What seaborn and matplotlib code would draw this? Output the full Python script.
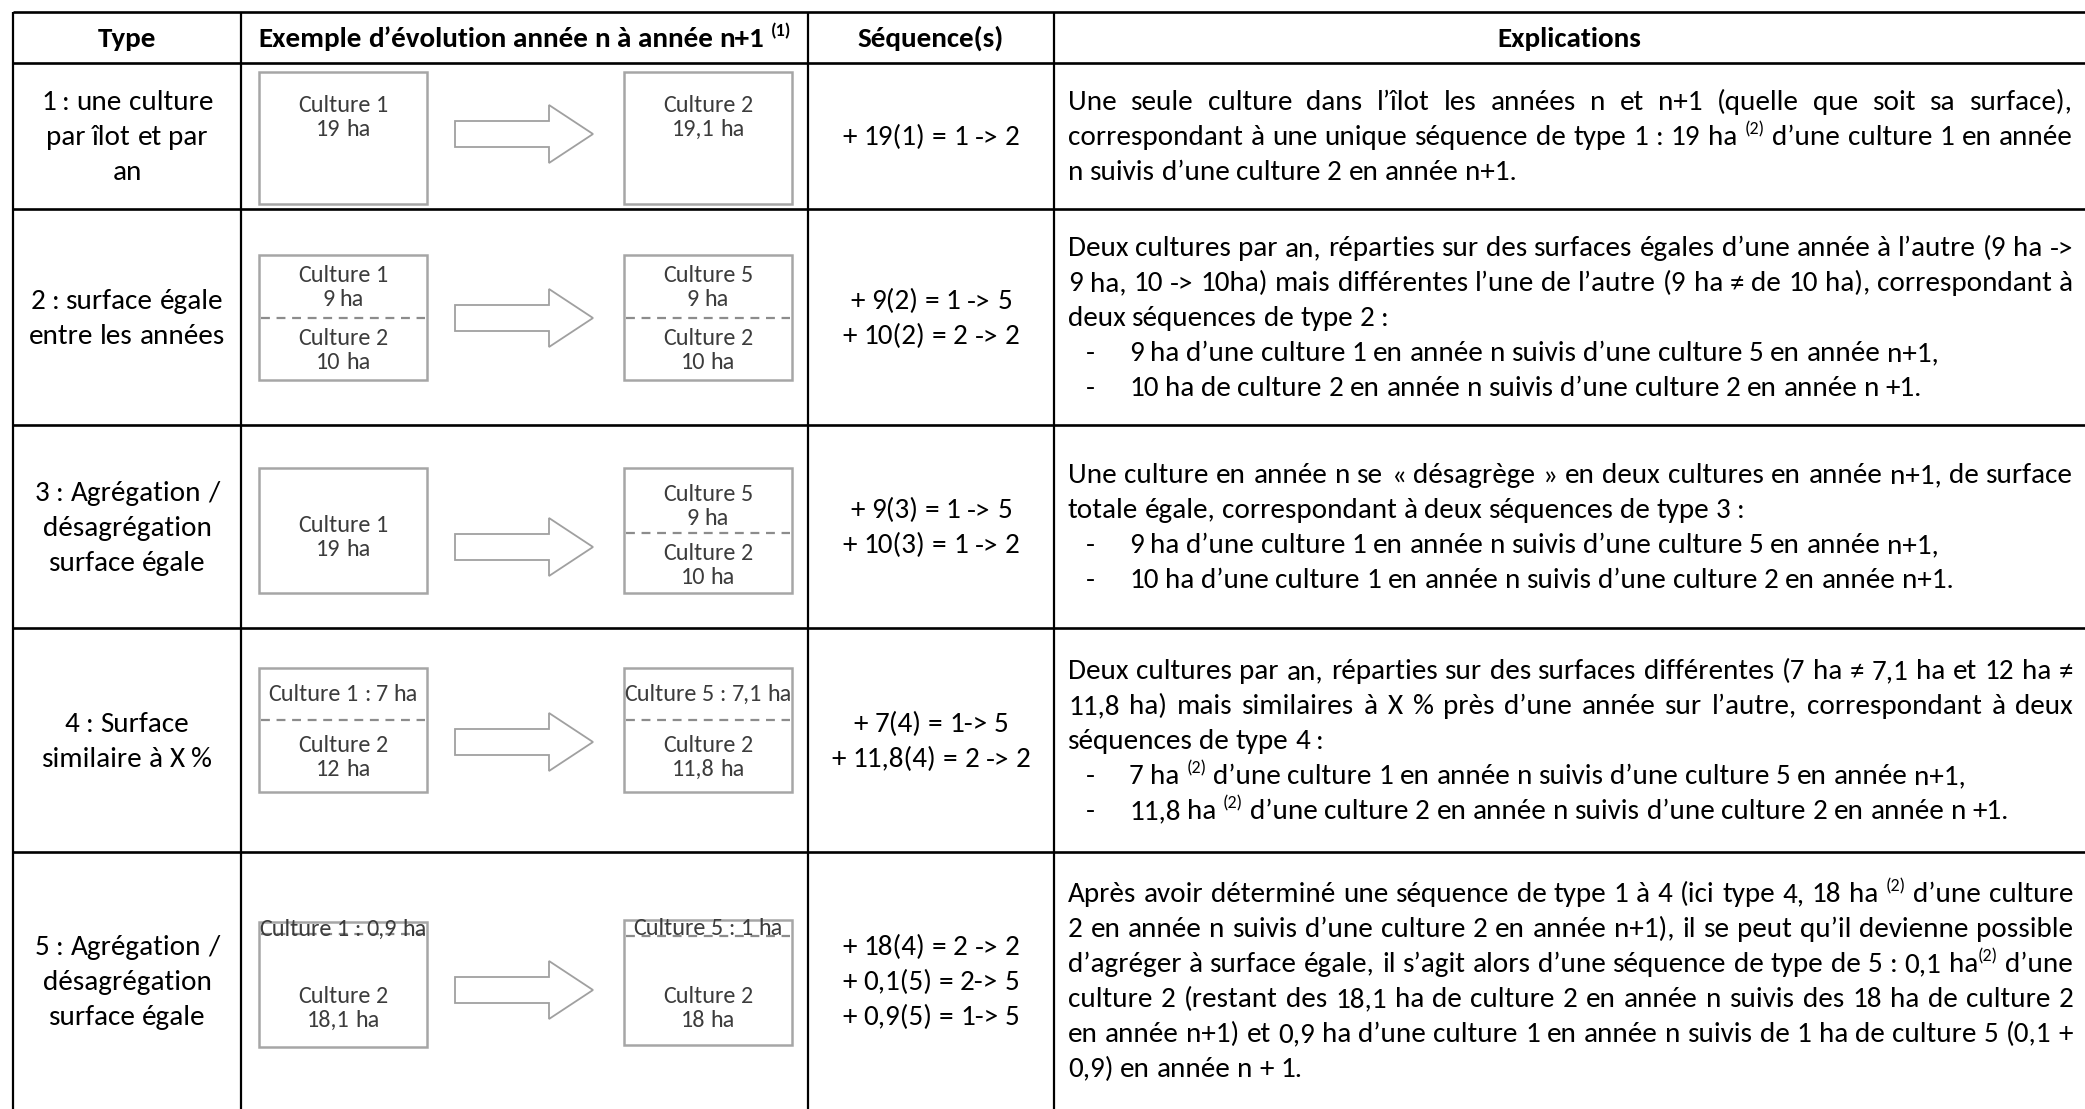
import matplotlib
matplotlib.use("Agg")
import matplotlib.pyplot as plt
from matplotlib.patches import Polygon, Rectangle
import seaborn as sns

sns.set_theme(style="white")
plt.rcParams["font.family"] = ["Carlito", "Lato", "DejaVu Sans"]

# ---- table content ----
headers = ["Type", "Exemple d’évolution année n à année n+1 ^(1)", "Séquence(s)", "Explications"]

types = [
    ["1 : une culture", "par îlot et par", "an"],
    ["2 : surface égale", "entre les années"],
    ["3 : Agrégation /", "désagrégation", "surface égale"],
    ["4 : Surface", "similaire à X %"],
    ["5 : Agrégation /", "désagrégation", "surface égale"],
]

sequences = [
    ["+ 19(1) = 1 -> 2"],
    ["+ 9(2) = 1 -> 5", "+ 10(2) = 2 -> 2"],
    ["+ 9(3) = 1 -> 5", "+ 10(3) = 1 -> 2"],
    ["+ 7(4) = 1-> 5", "+ 11,8(4) = 2 -> 2"],
    ["+ 18(4) = 2 -> 2", "+ 0,1(5) = 2-> 5", "+ 0,9(5) = 1-> 5"],
]

# j = justified, l = left, b = bullet
explications = [
    [("j", "Une seule culture dans l’îlot les années n et n+1 (quelle que soit sa surface),"),
     ("j", "correspondant à une unique séquence de type 1 : 19 ha ^(2) d’une culture 1 en année"),
     ("l", "n suivis d’une culture 2 en année n+1.")],
    [("j", "Deux cultures par an, réparties sur des surfaces égales d’une année à l’autre (9 ha ->"),
     ("j", "9 ha, 10 -> 10ha) mais différentes l’une de l’autre (9 ha ≠ de 10 ha), correspondant à"),
     ("l", "deux séquences de type 2 :"),
     ("b", "9 ha d’une culture 1 en année n suivis d’une culture 5 en année n+1,"),
     ("b", "10 ha de culture 2 en année n suivis d’une culture 2 en année n +1.")],
    [("j", "Une culture en année n se « désagrège » en deux cultures en année n+1, de surface"),
     ("l", "totale égale, correspondant à deux séquences de type 3 :"),
     ("b", "9 ha d’une culture 1 en année n suivis d’une culture 5 en année n+1,"),
     ("b", "10 ha d’une culture 1 en année n suivis d’une culture 2 en année n+1.")],
    [("j", "Deux cultures par an, réparties sur des surfaces différentes (7 ha ≠ 7,1 ha et 12 ha ≠"),
     ("j", "11,8 ha) mais similaires à X % près d’une année sur l’autre, correspondant à deux"),
     ("l", "séquences de type 4 :"),
     ("b", "7 ha ^(2) d’une culture 1 en année n suivis d’une culture 5 en année n+1,"),
     ("b", "11,8 ha ^(2) d’une culture 2 en année n suivis d’une culture 2 en année n +1.")],
    [("j", "Après avoir déterminé une séquence de type 1 à 4 (ici type 4, 18 ha ^(2) d’une culture"),
     ("j", "2 en année n suivis d’une culture 2 en année n+1), il se peut qu’il devienne possible"),
     ("j", "d’agréger à surface égale, il s’agit alors d’une séquence de type de 5 : 0,1 ha^(2) d’une"),
     ("j", "culture 2 (restant des 18,1 ha de culture 2 en année n suivis des 18 ha de culture 2"),
     ("j", "en année n+1) et 0,9 ha d’une culture 1 en année n suivis de 1 ha de culture 5 (0,1 +"),
     ("l", "0,9) en année n + 1.")],
]

# boxes: one list of text lines per part (parts split by dashed line)
left_boxes = [
    [["Culture 1", "19 ha"]],
    [["Culture 1", "9 ha"], ["Culture 2", "10 ha"]],
    [["Culture 1", "19 ha"]],
    [["Culture 1 : 7 ha"], ["Culture 2", "12 ha"]],
    [["Culture 1 : 0,9 ha"], ["Culture 2", "18,1 ha"]],
]
right_boxes = [
    [["Culture 2", "19,1 ha"]],
    [["Culture 5", "9 ha"], ["Culture 2", "10 ha"]],
    [["Culture 5", "9 ha"], ["Culture 2", "10 ha"]],
    [["Culture 5 : 7,1 ha"], ["Culture 2", "11,8 ha"]],
    [["Culture 5 : 1 ha"], ["Culture 2", "18 ha"]],
]

# ---- layout (pixels) ----
W, H = 2085, 1109
col_x = [13, 241, 808, 1054]
row_y = [12, 63, 209, 425, 628, 852, 1109]
LINE = 35          # body line spacing
BOX_LINE = 24      # line spacing inside boxes
txt_x0, txt_x1 = 1068, 2073
bullet_x, bullet_txt_x = 1086, 1129

# per row: box top/bottom, dashed y (left, right), text centers per part, arrow centre
diag = [
    dict(lb=(72, 204), rb=(72, 204), ls=None, rs=None, lt=[116], rt=[116], arrow=134),
    dict(lb=(255, 380), rb=(255, 380), ls=318, rs=318, lt=[286, 349], rt=[286, 349], arrow=318),
    dict(lb=(468, 593), rb=(468, 593), ls=None, rs=533, lt=[536], rt=[505, 564], arrow=547),
    dict(lb=(668, 792), rb=(668, 792), ls=720, rs=720, lt=[693, 756], rt=[693, 756], arrow=742),
    dict(lb=(922, 1047), rb=(920, 1045), ls=934, rs=936, lt=[928, 1007], rt=[927, 1007], arrow=990),
]
lbox_x = (259, 427)
rbox_x = (624, 792)
arrow_x = (455, 549, 593)

fig = plt.figure(figsize=(W / 100, H / 100), dpi=100)
ax = fig.add_axes([0, 0, 1, 1])
ax.set_xlim(0, W)
ax.set_ylim(H, 0)
ax.axis("off")
renderer = fig.canvas.get_renderer()

SUP_SCALE, SUP_RAISE = 0.62, 0.36


def text_w(s, size, weight="normal"):
    t = ax.text(0, 0, s, fontsize=size, fontweight=weight)
    w = t.get_window_extent(renderer).width
    t.remove()
    return w


def split_sup(word):
    if "^" in word:
        a, b = word.split("^", 1)
        return [(p, s) for p, s in ((a, False), (b, True)) if p]
    return [(word, False)]


def natural_width(line, size, weight="normal"):
    words = line.split()
    sp = text_w("a a", size, weight) - text_w("aa", size, weight)
    tot = 0
    for w in words:
        for part, sup in split_sup(w):
            tot += text_w(part, size * SUP_SCALE if sup else size, weight)
    return tot + sp * (len(words) - 1)


def draw_words(line, x, y, size, weight="normal", mode="left", x1=None, color="black",
               clip=None):
    # y is the vertical centre of the line
    words = line.split()
    em = size * 100 / 72
    base = y + 0.32 * em
    items = []
    for w in words:
        segs = []
        for part, sup in split_sup(w):
            s = size * SUP_SCALE if sup else size
            segs.append((part, sup, s, text_w(part, s, weight)))
        items.append(segs)
    widths = [sum(s[3] for s in segs) for segs in items]
    sp = text_w("a a", size, weight) - text_w("aa", size, weight)
    gap = sp
    if mode == "justify" and len(items) > 1:
        gap = (x1 - x - sum(widths)) / (len(items) - 1)
    total = sum(widths) + gap * (len(items) - 1)
    if mode == "center":
        x = x - total / 2
    cx = x
    for segs in items:
        for part, sup, s, pw in segs:
            yy = base - SUP_RAISE * em if sup else base
            t = ax.text(cx, yy, part, fontsize=s, fontweight=weight, va="baseline",
                        ha="left", color=color)
            if clip is not None:
                t.set_clip_path(clip)
            cx += pw
        cx += gap


# body font size: the longest justified line just fills the column
body = 17.0
longest = max(natural_width(t, body) for row in explications for k, t in row if k == "j")
body *= (txt_x1 - txt_x0) / longest * 0.995
box_fs = body * 0.83

# ---- grid ----
for y in row_y[:-1]:
    ax.plot([col_x[0], W], [y, y], color="black", lw=1.9, solid_capstyle="butt")
for x in col_x:
    ax.plot([x, x], [row_y[0], H], color="black", lw=1.6, solid_capstyle="butt")

# ---- header ----
hy = (row_y[0] + row_y[1]) / 2
edges = col_x + [W]
for i, h in enumerate(headers):
    draw_words(h, (edges[i] + edges[i + 1]) / 2, hy, body, weight="bold", mode="center")


def centred_lines(lines, x, yc, size, step, **kw):
    n = len(lines)
    for k, ln in enumerate(lines):
        draw_words(ln, x, yc + (k - (n - 1) / 2) * step, size, mode="center", **kw)


def draw_box(bx, by, split, parts, centres):
    rect = Rectangle((bx[0], by[0]), bx[1] - bx[0], by[1] - by[0],
                     fill=False, ec="#a6a6a6", lw=1.8)
    ax.add_patch(rect)
    xc = (bx[0] + bx[1]) / 2
    for lines, yc in zip(parts, centres):
        centred_lines(lines, xc, yc, box_fs, BOX_LINE, color="#3c3c3c", clip=rect)
    if split is not None:
        ax.plot([bx[0] + 2, bx[1] - 2], [split, split], color="#8c8c8c", lw=1.6,
                dashes=(4, 3))


def draw_arrow(yc):
    x0, xh, x1 = arrow_x
    hs, hh = 13, 29
    pts = [(x0, yc - hs), (xh, yc - hs), (xh, yc - hh), (x1, yc), (xh, yc + hh),
           (xh, yc + hs), (x0, yc + hs)]
    ax.add_patch(Polygon(pts, closed=True, fc="white", ec="#a0a0a0", lw=1.3))


for r in range(5):
    top, bot = row_y[r + 1], row_y[r + 2]
    yc = (top + bot) / 2
    centred_lines(types[r], (col_x[0] + col_x[1]) / 2, yc, body, LINE)
    centred_lines(sequences[r], (col_x[2] + col_x[3]) / 2, yc, body, LINE)

    d = diag[r]
    draw_box(lbox_x, d["lb"], d["ls"], left_boxes[r], d["lt"])
    draw_box(rbox_x, d["rb"], d["rs"], right_boxes[r], d["rt"])
    draw_arrow(d["arrow"])

    rows = explications[r]
    n = len(rows)
    for k, (kind, line) in enumerate(rows):
        y = yc + (k - (n - 1) / 2) * LINE
        if kind == "j":
            draw_words(line, txt_x0, y, body, mode="justify", x1=txt_x1)
        elif kind == "b":
            draw_words("-", bullet_x, y, body)
            draw_words(line, bullet_txt_x, y, body)
        else:
            draw_words(line, txt_x0, y, body)

fig.savefig("out.png", dpi=100)
